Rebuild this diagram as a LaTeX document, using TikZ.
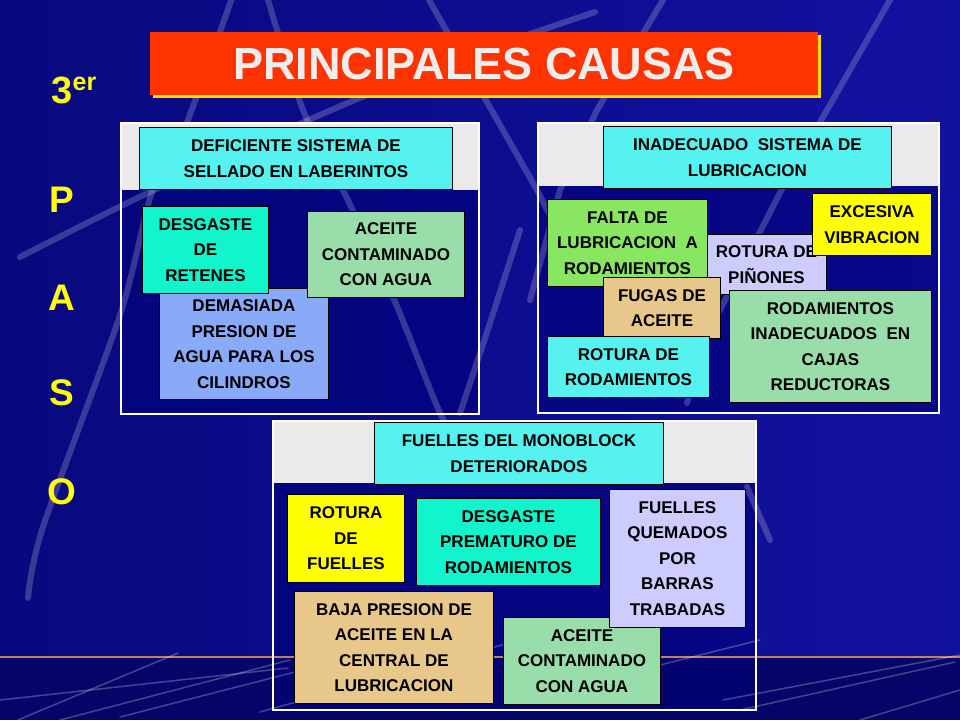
\documentclass[tikz,border=0pt]{standalone}
\usepackage{fontspec}
\setmainfont{Liberation Sans}
\definecolor{bgblue}{HTML}{0C0C8A}
\definecolor{bgleft}{HTML}{08087E}
\definecolor{bgright}{HTML}{1212A0}
\definecolor{bgdark}{HTML}{06066A}
\definecolor{pnavy}{HTML}{000078}
\definecolor{pgray}{HTML}{EAEAEA}
\definecolor{ccyan}{HTML}{55F2F0}
\definecolor{caqua}{HTML}{10F5CC}
\definecolor{cgreen}{HTML}{99DDAA}
\definecolor{cblue}{HTML}{88AAF8}
\definecolor{clime}{HTML}{88E660}
\definecolor{clav}{HTML}{CCCCFF}
\definecolor{cyel}{HTML}{FFFF00}
\definecolor{ctan}{HTML}{E8C88A}
\definecolor{tred}{HTML}{FF3300}
\definecolor{tshadow}{HTML}{FFDD00}
\definecolor{ttext}{HTML}{EEEEEE}
\definecolor{oline}{HTML}{C08060}
\definecolor{sidey}{HTML}{FFFF00}
\tikzset{
  cbox/.style={draw=black, line width=0.9pt, inner sep=0pt, align=center,
    anchor=north west, text=black,
    font=\bfseries\fontsize{17}{25.5}\selectfont},
  stripe/.style={draw=white, opacity=0.2, line width=6pt, line cap=round},
  thinstripe/.style={draw=white, opacity=0.25, line width=1.5pt, line cap=round},
  sideletter/.style={text=sidey, inner sep=0pt, font=\bfseries\fontsize{37}{37}\selectfont},
  panelframe/.style={draw=white, line width=2.5pt},
}
\newcommand\mkbox[7]{%
  \node[cbox, fill=#2, minimum width={#5-#3}, minimum height={#6-#4}] (#1) at (#3,#4) {#7};}
\begin{document}
\begin{tikzpicture}[x=1pt,y=-1pt]
\useasboundingbox (0,0) rectangle (960,720);
% background
\shade[left color=bgleft, right color=bgright] (0,0) rectangle (960,657);
\fill[bgdark] (0,657) rectangle (960,720);
% panel interiors
\fill[pnavy, opacity=0.55] (120,122) rectangle (480,415);
\fill[pnavy, opacity=0.55] (537,122) rectangle (940,414);
\fill[pnavy, opacity=0.55] (272,420) rectangle (757,711);
% decorative stripes
\draw[stripe] plot[smooth] coordinates {(233,-5) (184,130) (152,192) (120,315) (43,527) (28,598)};
\draw[stripe] plot[smooth] coordinates {(20,257) (150,192) (343,105) (470,55) (595,12)};
\draw[stripe] (429,0) -- (537,190) -- (560,235);
\draw[stripe] (663,0) -- (597,110) -- (560,190) -- (530,300);
\draw[stripe] (890,0) -- (783,187) -- (703,343) -- (687,403);
\draw[stripe] plot[smooth] coordinates {(268,0) (303,110) (343,190) (393,297) (440,413) (460,445)};
\draw[stripe] (520,230) -- (490,323) -- (460,413);
\draw[stripe] (747,487) -- (770,540);
% bottom band lines
\draw[oline, line width=1.5pt] (0,657) -- (960,657);
\draw[thinstripe] (18,720) -- (178,653);
\draw[thinstripe] (60,720) -- (290,660);
\draw[thinstripe] (120,717) -- (330,663);
\draw[thinstripe] (0,700) -- (288,668);
\draw[thinstripe] (260,712) -- (520,640);
\draw[thinstripe] (520,700) -- (760,640);
\draw[thinstripe] (723,700) -- (960,655);
\draw[thinstripe] (740,710) -- (955,662);
\draw[thinstripe] (860,720) -- (960,690);
% panel gray tops and frames
\fill[pgray] (120,122) rectangle (480,190);
\draw[panelframe] (121,123) rectangle (479,414);
\fill[pgray] (537,122) rectangle (940,186);
\draw[panelframe] (538,123) rectangle (939,413);
\fill[pgray] (272,420) rectangle (757,483);
\draw[panelframe] (273,421) rectangle (756,710);
% left panel boxes
\mkbox{lhead}{ccyan}{139}{127}{452}{189}{DEFICIENTE SISTEMA DE\\SELLADO EN LABERINTOS}
\mkbox{lpres}{cblue}{159}{288}{328}{399}{DEMASIADA\\PRESION DE\\AGUA PARA LOS\\CILINDROS}
\mkbox{lret}{caqua}{142}{206}{268}{293}{DESGASTE\\DE\\RETENES}
\mkbox{lace}{cgreen}{307}{211}{464}{297}{ACEITE\\CONTAMINADO\\CON AGUA}
% right panel boxes
\mkbox{rhead}{ccyan}{603}{126}{891}{188}{INADECUADO\ \ SISTEMA DE\\LUBRICACION}
\mkbox{rpin}{clav}{706}{234}{826}{294}{ROTURA DE\\PIÑONES}
\mkbox{rfal}{clime}{547}{199}{707}{286}{FALTA DE\\LUBRICACION\ \ A\\RODAMIENTOS}
\mkbox{rvib}{cyel}{812}{193}{931}{255}{EXCESIVA\\VIBRACION}
\mkbox{rfug}{ctan}{603}{277}{720}{338}{FUGAS DE\\ACEITE}
\mkbox{rrot}{ccyan}{547}{336}{709}{397}{ROTURA DE\\RODAMIENTOS}
\mkbox{rcaj}{cgreen}{729}{290}{931}{402}{RODAMIENTOS\\INADECUADOS\ \ EN\\CAJAS\\REDUCTORAS}
% bottom panel boxes
\mkbox{bhead}{ccyan}{374}{422}{663}{484}{FUELLES DEL MONOBLOCK\\DETERIORADOS}
\mkbox{bfue}{cyel}{287}{494}{404}{582}{ROTURA\\DE\\FUELLES}
\mkbox{bdes}{caqua}{416}{498}{600}{585}{DESGASTE\\PREMATURO DE\\RODAMIENTOS}
\mkbox{bbaj}{ctan}{294}{591}{493}{703}{BAJA PRESION DE\\ACEITE EN LA\\CENTRAL DE\\LUBRICACION}
\mkbox{bace}{cgreen}{503}{617}{660}{704}{ACEITE\\CONTAMINADO\\CON AGUA}
\mkbox{bque}{clav}{609}{489}{745}{627}{FUELLES\\QUEMADOS\\POR\\BARRAS\\TRABADAS}
% title
\fill[tshadow] (153,35) rectangle (821,98);
\node[fill=tred, inner sep=0pt, anchor=north west, minimum width=668, minimum height=63,
  text=ttext, font=\bfseries\fontsize{45}{45}\selectfont] (title) at (150,32) {PRINCIPALES CAUSAS};
% side letters
\node[text=sidey, inner sep=0pt, anchor=base west, font=\bfseries\fontsize{38}{38}\selectfont] (s3) at (51,103) {3};
\node[text=sidey, inner sep=0pt, anchor=base west, font=\bfseries\fontsize{25}{25}\selectfont] (ser) at (s3.base east) {\raisebox{13pt}{er}};
\node[sideletter] (sp) at (62,200) {P};
\node[sideletter] (sa) at (62,298) {A};
\node[sideletter] (ss) at (62,393) {S};
\node[sideletter] (so) at (62,492) {O};
\end{tikzpicture}
\end{document}
